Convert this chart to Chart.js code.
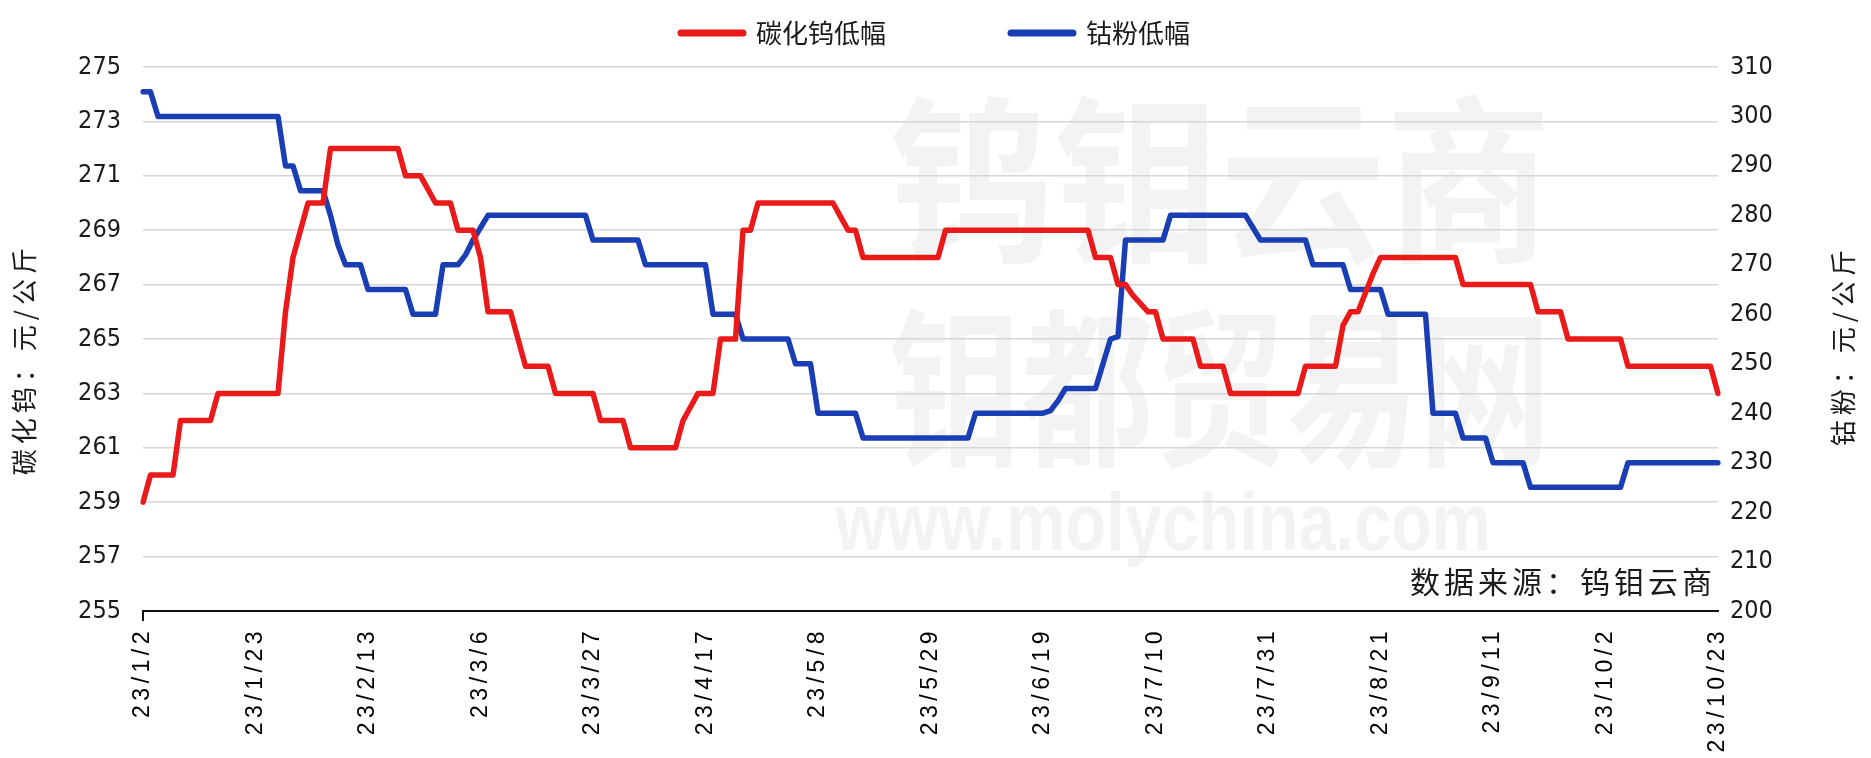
<!DOCTYPE html>
<html>
<head>
<meta charset="utf-8">
<script src="https://cdn.jsdelivr.net/npm/chart.js@4.4.1/dist/chart.umd.min.js"></script>
<style>
  html, body { margin: 0; padding: 0; background: #fff; overflow: hidden; }
  #chart { display: block; }
</style>
</head>
<body>
<canvas id="chart" width="1871" height="758"></canvas>
<script>
// weekday categories 23/1/2 .. 23/10/23
const dates = [];
for (let d = new Date(2023, 0, 2); dates.length < 211; d.setDate(d.getDate() + 1)) {
  const wd = d.getDay();
  if (wd === 0 || wd === 6) continue;
  dates.push(`${d.getFullYear() % 100}/${d.getMonth() + 1}/${d.getDate()}`);
}

// 碳化钨低幅 (left axis), one row = one week
const carbide = [
  259, 260, 260, 260, 260,
  262, 262, 262, 262, 262,
  263, 263, 263, 263, 263,
  263, 263, 263, 263, 266,
  268, 269, 270, 270, 270,
  272, 272, 272, 272, 272,
  272, 272, 272, 272, 272,
  271, 271, 271, 270.5, 270,
  270, 270, 269, 269, 269,
  268, 266, 266, 266, 266,
  265, 264, 264, 264, 264,
  263, 263, 263, 263, 263,
  263, 262, 262, 262, 262,
  261, 261, 261, 261, 261,
  261, 261, 262, 262.5, 263,
  263, 263, 265, 265, 265,
  269, 269, 270, 270, 270,
  270, 270, 270, 270, 270,
  270, 270, 270, 269.5, 269,
  269, 268, 268, 268, 268,
  268, 268, 268, 268, 268,
  268, 268, 269, 269, 269,
  269, 269, 269, 269, 269,
  269, 269, 269, 269, 269,
  269, 269, 269, 269, 269,
  269, 269, 268, 268, 268,
  267, 267, 266.6, 266.3, 266,
  266, 265, 265, 265, 265,
  265, 264, 264, 264, 264,
  263, 263, 263, 263, 263,
  263, 263, 263, 263, 263,
  264, 264, 264, 264, 264,
  265.5, 266, 266, 266.7, 267.4,
  268, 268, 268, 268, 268,
  268, 268, 268, 268, 268,
  268, 267, 267, 267, 267,
  267, 267, 267, 267, 267,
  267, 266, 266, 266, 266,
  265, 265, 265, 265, 265,
  265, 265, 265, 264, 264,
  264, 264, 264, 264, 264,
  264, 264, 264, 264, 264,
  263
];

// 钴粉低幅 (right axis)
const cobalt = [
  305, 305, 300, 300, 300,
  300, 300, 300, 300, 300,
  300, 300, 300, 300, 300,
  300, 300, 300, 300, 290,
  290, 285, 285, 285, 285,
  280, 274, 270, 270, 270,
  265, 265, 265, 265, 265,
  265, 260, 260, 260, 260,
  270, 270, 270, 272, 275,
  277.5, 280, 280, 280, 280,
  280, 280, 280, 280, 280,
  280, 280, 280, 280, 280,
  275, 275, 275, 275, 275,
  275, 275, 270, 270, 270,
  270, 270, 270, 270, 270,
  270, 260, 260, 260, 260,
  255, 255, 255, 255, 255,
  255, 255, 250, 250, 250,
  240, 240, 240, 240, 240,
  240, 235, 235, 235, 235,
  235, 235, 235, 235, 235,
  235, 235, 235, 235, 235,
  235, 240, 240, 240, 240,
  240, 240, 240, 240, 240,
  240, 240.5, 242.5, 245, 245,
  245, 245, 245, 250, 255,
  255.5, 275, 275, 275, 275,
  275, 275, 280, 280, 280,
  280, 280, 280, 280, 280,
  280, 280, 280, 277.5, 275,
  275, 275, 275, 275, 275,
  275, 270, 270, 270, 270,
  270, 265, 265, 265, 265,
  265, 260, 260, 260, 260,
  260, 260, 240, 240, 240,
  240, 235, 235, 235, 235,
  230, 230, 230, 230, 230,
  225, 225, 225, 225, 225,
  225, 225, 225, 225, 225,
  225, 225, 225, 230, 230,
  230, 230, 230, 230, 230,
  230, 230, 230, 230, 230,
  230
];

const seriesNames = ["碳化钨低幅", "钴粉低幅"];
const leftTitle = "碳化钨：元/公斤";
const rightTitle = "钴粉：元/公斤";
const sourceNote = "数据来源：钨钼云商";

const RED = "#eb1a1a";
const BLUE = "#1a3fb5";
const CJK = "'Noto Sans CJK SC', sans-serif";
const NUM = "'Liberation Sans Narrow', 'DejaVu Sans Condensed', sans-serif";
const TXT = "#1a1a1a";

// vertical text that reads bottom-to-top, its end at (x, top)
function upText(c, text, x, top) {
  c.save();
  c.translate(x, top);
  c.rotate(-Math.PI / 2);
  c.textAlign = "right";
  c.textBaseline = "middle";
  c.fillText(text, 0, 0);
  c.restore();
}

// faint watermark, axis titles, source note, spaced-out x tick text
const decor = {
  id: "decor",
  beforeDraw(chart) {
    const c = chart.ctx;
    c.letterSpacing = "0px";
    c.save();
    c.fillStyle = "rgba(0,0,0,0.048)";
    c.textAlign = "center";
    c.textBaseline = "middle";
    c.font = `bold 180px ${CJK}`;
    c.fillText("钨钼云商", 1220, 180, 662);
    c.font = `bold 170px ${CJK}`;
    c.fillText("钼都贸易网", 1220, 388, 662);
    c.font = "bold 82px 'Liberation Sans', sans-serif";
    c.fillText("www.molychina.com", 1163, 527, 656);
    c.restore();
  },
  afterDatasetsDraw(chart) {
    const c = chart.ctx;
    const a = chart.chartArea;
    c.save();
    c.fillStyle = TXT;
    c.letterSpacing = "4px";
    c.font = `30px ${CJK}`;
    c.textAlign = "right";
    c.textBaseline = "middle";
    c.fillText(sourceNote, a.right - 2, a.bottom - 29);
    c.letterSpacing = "5px";
    c.font = `26px ${CJK}`;
    upText(c, leftTitle, 24, 243);
    upText(c, rightTitle, 1843, 245);
    c.restore();
    c.letterSpacing = "4.5px";
  },
  afterDraw(chart) {
    chart.ctx.letterSpacing = "0px";
  }
};

new Chart(document.getElementById("chart"), {
  type: "line",
  data: {
    labels: dates,
    datasets: [
      {
        label: seriesNames[0],
        data: carbide,
        yAxisID: "y",
        borderColor: RED,
        backgroundColor: RED,
        borderWidth: 5.5,
        borderJoinStyle: "round",
        borderCapStyle: "round",
        pointRadius: 0,
        tension: 0
      },
      {
        label: seriesNames[1],
        data: cobalt,
        yAxisID: "y1",
        borderColor: BLUE,
        backgroundColor: BLUE,
        borderWidth: 5.5,
        borderJoinStyle: "round",
        borderCapStyle: "round",
        pointRadius: 0,
        tension: 0
      }
    ]
  },
  options: {
    responsive: false,
    animation: false,
    devicePixelRatio: 1,
    layout: { padding: { top: -105, left: 0, right: 0, bottom: 0 } },
    plugins: {
      tooltip: { enabled: false },
      legend: {
        position: "top",
        labels: {
          usePointStyle: true,
          pointStyle: "line",
          pointStyleWidth: 62,
          padding: 125,
          color: TXT,
          font: { family: CJK, size: 26 },
          generateLabels: (chart) =>
            Chart.defaults.plugins.legend.labels.generateLabels(chart).map((l) =>
              Object.assign(l, { lineWidth: 7, lineCap: "round" })
            )
        }
      },
      // spacer between legend and plot
      title: { display: true, text: "", weight: 500, padding: 0, font: { size: 11, lineHeight: 1 } }
    },
    scales: {
      x: {
        ticks: {
          autoSkip: false,
          maxRotation: 90,
          minRotation: 90,
          padding: 6,
          z: 1,
          color: "#000",
          font: { family: "'Liberation Sans', sans-serif", size: 23 },
          callback: function (val, i) {
            return i % 15 === 0 ? this.getLabelForValue(val) : null;
          }
        },
        grid: {
          drawOnChartArea: false,
          drawTicks: true,
          tickLength: 10,
          lineWidth: 2,
          color: (ctx) => (ctx.index % 15 === 0 ? "#111" : "rgba(0,0,0,0)")
        },
        border: { display: true, color: "#111", width: 2 },
        afterFit: (s) => { s.height = 147; }
      },
      y: {
        position: "left",
        min: 255,
        max: 275,
        ticks: { stepSize: 2, padding: 22, color: TXT, font: { family: NUM, size: 25 } },
        grid: { color: "#d6d6d6", lineWidth: 1.5, drawTicks: false },
        border: { display: false },
        afterFit: (s) => { s.width = 143; }
      },
      y1: {
        position: "right",
        min: 200,
        max: 310,
        ticks: { stepSize: 10, padding: 12, color: TXT, font: { family: NUM, size: 25 } },
        grid: { drawOnChartArea: false, drawTicks: false },
        border: { display: false },
        afterFit: (s) => { s.width = 153; }
      }
    }
  },
  plugins: [decor]
});
</script>
</body>
</html>
